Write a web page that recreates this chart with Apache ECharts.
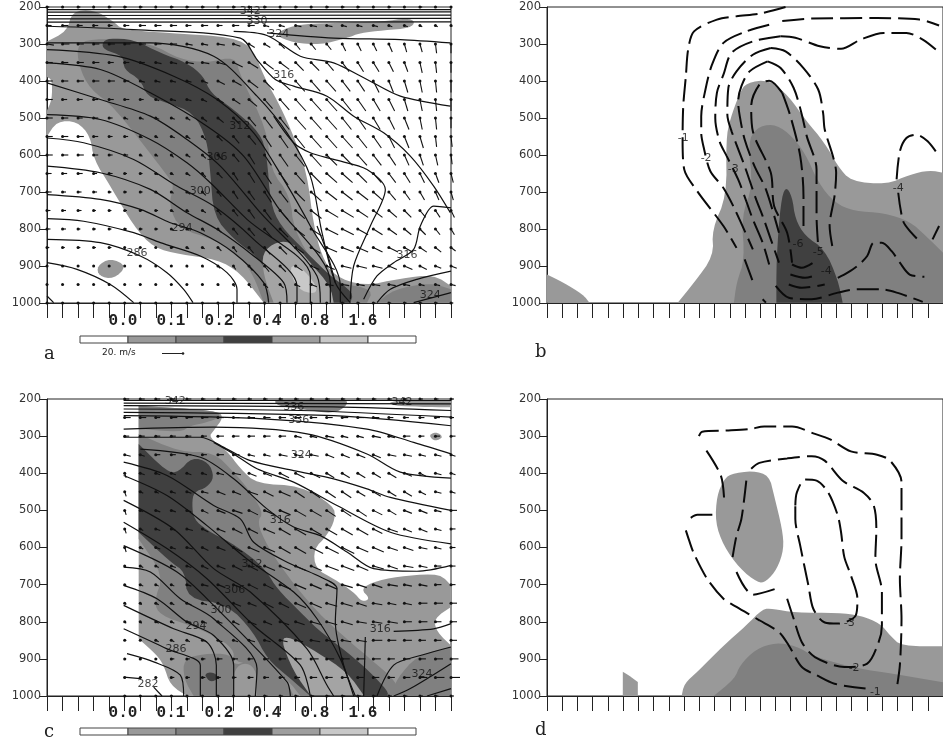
<!DOCTYPE html>
<html><head><meta charset="utf-8">
<style>html,body{margin:0;padding:0;background:#fff;overflow:hidden}#c{width:943px;height:742px}</style>
<script src="https://cdn.jsdelivr.net/npm/echarts@6/dist/echarts.min.js"></script>
</head><body><div id="c"></div>
<script>
const pressureRows=[200,250,300,350,400,450,500,550,600,650,700,750,800,850,900,950,1000];
const colorbarLabels=['','0.0','0.1','0.2','0.4','0.8','1.6',''];
const colorbarColors=['#ffffff','#999999','#7f7f7f','#404040','#9e9e9e','#c8c8c8','#ffffff'];

/* panel a */
const aWest=[
[2,1,2,1,2,2,2,1,2,2,2,1,2,2,2,1,2,1,2,2,2,1,2,1,2,1,1],
[4,5,4,4,3,4,5,5,5,4,5,4,5,5,4,4,5,5,5,4,4,4,3,3,2,2,1],
[6,6,5,5,5,5,5,5,5,5,5,6,6,5,5,4,4,4,4,3,3,3,3,2,2,1,0],
[5,5,5,5,4,4,4,5,5,6,6,7,8,8,8,8,7,7,6,6,5,5,4,3,2,1,0],
[5,5,5,5,5,4,4,4,4,4,5,6,7,8,8,9,8,8,8,7,6,5,4,3,2,1,0],
[5,4,4,4,4,4,3,3,4,4,4,5,6,7,7,8,9,9,9,8,7,6,5,3,2,1,0],
[5,5,4,4,3,3,3,3,3,3,4,5,5,6,7,8,9,9,9,8,7,6,5,4,2,1,0],
[5,5,5,4,3,3,2,2,3,3,3,4,5,6,6,7,8,9,9,9,8,7,5,4,3,1,1],
[5,5,5,4,3,3,2,2,2,3,3,4,5,5,6,7,8,9,9,9,8,7,6,4,3,2,1],
[4,4,4,3,3,2,2,2,2,3,3,4,4,5,6,7,8,9,9,9,8,7,6,5,4,3,2],
[4,3,3,3,2,2,2,2,2,3,3,3,4,5,6,7,8,9,9,9,9,8,6,5,4,3,2],
[3,3,3,2,2,2,2,2,2,2,3,3,4,5,6,7,8,9,10,10,9,8,7,6,5,4,3],
[3,3,2,2,2,2,2,2,2,2,2,3,4,5,6,7,8,9,10,10,9,8,7,6,5,4,3],
[2,2,2,2,2,1,1,1,2,2,2,3,3,4,5,6,7,8,9,10,9,8,8,7,6,5,4],
[1,1,1,1,1,1,1,1,1,1,1,2,2,3,4,5,6,7,7,8,8,8,7,7,6,5,5],
[1,1,1,0,0,1,1,1,1,1,1,1,1,2,3,3,4,5,6,6,6,6,6,5,4,4,4],
[1,1,1,1,1,1,1,1,1,1,1,1,1,1,1,1,1,1,1,2,2,2,2,2,2,2,2]];
const aUp=[
[0,0,0,0,0,0,0,0,0,0,0,0,0,0,0,0,0,0,0,0,0,0,0,0,0,0,0],
[0,0,0,0,0,0,0,0,0,0,0,0,0,0,1,1,1,1,1,1,1,1,1,1,1,1,1],
[1,0,0,0,0,0,0,0,0,1,1,1,2,3,3,4,5,5,5,6,6,6,7,7,7,8,8],
[0,0,0,0,0,0,0,1,1,1,1,2,4,5,6,6,7,7,7,8,8,8,8,8,9,9,9],
[0,0,0,0,0,0,1,1,1,1,2,3,4,6,8,8,9,9,9,9,9,10,10,10,10,10,10],
[0,0,0,0,0,0,0,1,1,1,2,3,4,6,8,9,10,10,10,10,10,10,10,10,10,10,10],
[0,0,0,0,0,1,1,1,1,2,3,4,5,7,9,10,10,10,10,10,10,10,10,10,10,10,9],
[0,0,0,0,0,0,1,1,1,2,3,4,6,7,9,10,10,10,10,10,10,10,10,10,10,9,9],
[0,0,0,0,0,0,1,1,2,2,3,4,6,8,9,10,10,10,9,9,9,9,9,9,9,9,8],
[0,0,0,0,0,0,0,1,1,2,3,4,6,8,9,10,9,9,8,8,8,8,8,8,8,8,8],
[0,0,0,0,0,0,0,1,1,2,3,4,6,7,9,9,8,8,7,7,7,7,7,7,7,7,7],
[0,0,0,0,0,0,0,0,1,1,2,4,5,7,8,8,7,7,6,6,6,6,6,6,6,6,6],
[0,0,0,0,0,0,0,0,1,1,2,3,5,6,7,7,6,6,5,5,5,5,5,5,5,5,5],
[0,0,0,0,0,0,0,0,0,1,1,3,4,5,6,6,5,5,4,4,4,4,4,4,4,4,3],
[0,0,0,0,0,0,0,0,0,1,1,2,3,4,5,5,4,3,3,2,2,2,3,3,3,2,2],
[0,0,0,0,0,0,0,0,0,0,0,1,2,3,3,3,2,2,1,1,1,1,1,1,1,1,1],
[0,0,0,0,0,0,0,0,0,0,0,0,0,1,1,1,1,0,0,0,0,0,0,0,0,0,0]];
const aLight=[[0,293],[60,266],[75,212],[140,207],[200,239],[225,261],[360,270],[560,281],[620,315],[650,387],[700,468],[740,549],[780,648],[800,792],[825,873],[860,927],[950,954],[1060,934],[1160,923],[1212,954],[1212,999],[650,999],[580,918],[510,882],[400,869],[320,851],[260,792],[190,684],[140,612],[130,549],[90,509],[30,509],[0,549],[0,480],[15,450],[15,396],[0,389]];
const aMid=[[95,360],[90,297],[160,284],[310,297],[400,342],[480,351],[565,333],[580,387],[660,531],[670,639],[730,711],[740,801],[810,909],[870,945],[980,963],[960,999],[650,999],[620,927],[580,873],[500,828],[400,801],[365,738],[380,684],[370,666],[200,468],[130,423]];
const aDark=[[165,297],[185,284],[260,288],[340,324],[420,351],[470,387],[490,432],[560,477],[640,540],[660,603],[670,729],[700,792],[780,864],[850,927],[920,972],[910,999],[690,999],[660,927],[640,882],[560,828],[500,765],[490,648],[480,558],[440,486],[360,459],[300,441],[280,396],[230,369],[230,333],[170,315]];
const aPale=[[645,864],[690,833],[740,837],[790,891],[850,954],[860,999],[680,999],[650,927]];
const aPaler=[[725,900],[760,900],[810,954],[805,977],[750,963]];
const aUpperPatch=[[740,248],[860,243],[1010,239],[1080,230],[1105,239],[1090,257],[1010,263],[940,270],[900,284],[820,302],[740,297],[680,275]];
const aBlob=[[150,900],[190,878],[240,900],[200,936],[155,927]];
const aLowerRight=[[990,999],[1040,963],[1150,945],[1212,963],[1212,999]];
const aContours=[
[[0,207],[1212,207]],[[0,214],[1212,213]],[[0,223],[1212,222]],[[0,232],[1212,231]],[[0,241],[1212,240]],
[[0,252],[260,261],[580,284],[630,342],[685,396],[740,414],[840,441],[920,495],[1010,540],[1090,603],[1160,684],[1210,756]],
[[560,266],[660,277],[760,333],[860,351],[960,396],[1060,441],[1210,468]],
[[660,270],[860,284],[1060,288],[1210,297]],
[[0,297],[310,297],[500,333],[630,441],[720,540],[790,657],[825,810],[865,945],[910,999]],
[[0,315],[210,333],[380,387],[510,450],[620,540],[710,666],[790,792],[880,954],[880,999]],
[[0,351],[160,369],[310,432],[480,522],[590,603],[690,738],[850,945],[850,999]],
[[0,405],[160,450],[310,495],[420,558],[520,630],[640,756],[810,927],[820,999]],
[[0,491],[160,504],[310,558],[420,621],[490,675],[600,774],[790,927],[790,999]],
[[0,554],[110,567],[260,612],[390,684],[500,738],[620,828],[750,954],[750,999]],
[[0,630],[160,648],[310,693],[420,756],[510,801],[620,873],[710,945],[720,999]],
[[0,707],[160,720],[280,747],[370,783],[460,810],[560,864],[650,945],[665,999]],
[[0,772],[110,779],[260,810],[340,837],[460,873],[540,918],[570,963],[570,999]],
[[0,828],[160,837],[280,873],[360,918],[410,963],[438,999]],
[[0,891],[90,909],[190,950],[260,999]],
[[0,981],[20,999]],
[[680,495],[740,567],[790,594],[860,612],[960,639],[1015,693],[970,792],[920,900],[910,990]],
[[810,792],[840,864],[865,945]],
[[1212,743],[1160,738],[1120,792],[1100,855],[1040,891],[990,927],[950,990]],
[[990,999],[1030,963],[1110,936],[1212,914]],
[[1100,999],[1212,972]]];
const aLabels=[[578,522,'312'],[510,607,'306'],[460,698,'300'],[405,797,'294'],[270,866,'286'],[710,383,'316'],[695,273,'324'],[1080,871,'316'],[1150,979,'324'],[630,239,'330'],[610,212,'342']];

/* panel b */
const bLow=[[0,923],[50,945],[110,977],[130,999],[0,999]];
const bLight=[[400,999],[450,945],[510,873],[505,801],[550,711],[548,558],[560,504],[590,432],[610,405],[680,396],[740,441],[790,504],[850,567],[890,630],[930,671],[1040,680],[1110,653],[1170,641],[1212,648],[1212,999]];
const bMid=[[572,999],[580,945],[605,882],[595,765],[630,684],[615,567],[640,527],[690,515],[740,540],[790,594],[830,675],[880,729],[940,752],[1030,756],[1110,779],[1160,819],[1212,864],[1212,999]];
const bDark=[[702,999],[702,882],[715,729],[730,684],[750,711],[760,774],[790,819],[850,855],[890,936],[905,999]];
const bContours=[
[[730,200],[650,218],[580,225],[520,234],[450,266],[432,315],[425,387],[417,468],[415,558],[420,639],[460,698],[540,792],[580,851]],
[[680,248],[610,266],[540,297],[505,356],[485,423],[472,495],[472,540],[480,581],[500,644],[540,689],[575,747],[630,855]],
[[715,279],[630,293],[565,324],[540,383],[520,432],[515,500],[528,563],[550,603],[585,666],[610,725],[630,774],[660,837],[680,896]],
[[685,311],[630,329],[580,374],[555,419],[552,491],[565,536],[605,630],[640,720],[660,765],[685,828],[710,891]],
[[675,347],[620,374],[595,414],[585,455],[590,495],[605,558],[635,630],[670,693],[710,810]],
[[720,432],[680,399],[650,410],[625,468],[630,536],[685,648],[695,738],[735,810],[750,891]],
[[685,311],[730,320],[785,365],[830,423],[845,486],[850,531],[875,603],[885,648],[880,711],[865,792],[875,855]],
[[675,347],[715,365],[755,419],[780,491],[795,549],[825,639],[825,765],[830,846]],
[[720,432],[745,495],[775,603],[785,711],[785,792]],
[[750,896],[780,905],[830,882]],
[[745,923],[790,932],[830,923]],
[[740,950],[780,959],[850,950]],
[[700,954],[740,986],[810,990],[890,972],[950,963],[1020,963],[1070,972],[1150,997]],
[[890,932],[920,918],[950,900],[980,873],[1000,837],[1025,837],[1055,860],[1080,891],[1110,923],[1155,929]],
[[1075,702],[1090,779],[1115,810],[1140,833]],
[[1180,828],[1200,792]],
[[1070,666],[1080,590],[1100,554],[1130,545],[1165,563],[1200,603]],
[[605,882],[635,954]],
[[660,990],[670,999]],
[[720,238],[810,231],[1010,230],[1140,234],[1200,250]],
[[715,279],[760,283],[835,306],[900,313],[960,288],[1030,270],[1100,270],[1150,288],[1190,315]]];
const bLabels=[[417,554,'-1'],[487,608,'-2'],[570,637,'-3'],[1075,690,'-4'],[768,840,'-6'],[830,862,'-5'],[855,914,'-4']];

/* panel c: columns start at the sixth tick */
const cWest=[
[3,3,3,3,3,2,2,2,2,2,2,2,2,2,2,2,2,2,2,2,2,2],
[4,4,3,4,4,4,4,4,4,4,4,4,4,4,4,4,4,3,3,3,3,2],
[3,3,3,3,3,3,4,4,4,4,4,4,4,5,4,4,5,4,4,3,3,3],
[4,3,3,3,3,3,4,4,4,4,5,5,5,5,5,5,5,5,5,4,4,3],
[1,3,3,3,3,3,4,5,5,5,6,6,6,5,5,5,5,5,5,4,4,3],
[1,2,2,3,3,4,5,5,6,6,7,6,6,6,6,5,5,5,5,4,4,3],
[1,2,3,3,3,4,5,6,6,7,7,7,7,6,6,6,6,5,5,5,4,4],
[1,2,3,3,4,4,5,6,6,7,7,7,7,7,7,7,6,6,5,5,4,3],
[1,2,3,3,4,4,5,6,7,7,7,7,8,8,8,7,7,6,6,5,4,3],
[1,2,2,3,3,4,5,6,6,7,7,7,7,8,8,7,7,6,6,5,4,3],
[1,2,2,2,3,4,5,5,6,6,7,7,7,7,7,6,6,6,5,5,4,3],
[1,1,2,2,3,3,4,5,5,6,6,7,7,7,7,6,6,5,5,5,5,4],
[1,1,2,2,3,3,3,4,5,5,6,6,7,7,7,6,6,6,5,5,4,4],
[1,1,2,2,2,3,3,3,4,4,5,5,6,6,6,6,6,5,5,4,4,4],
[1,1,1,2,2,2,3,3,3,3,4,4,5,5,5,5,5,4,4,4,5,5],
[1,1,1,2,2,2,2,2,3,3,3,3,4,4,4,4,4,4,4,5,6,6],
[1,1,1,1,1,1,1,1,1,2,2,2,2,2,2,2,2,2,2,2,2,2]];
const cUp=[
[0,0,0,0,0,0,0,0,0,0,0,0,0,0,0,0,0,0,0,0,0,0],
[0,0,0,0,0,0,0,0,0,0,0,0,0,0,0,0,0,0,0,0,0,0],
[0,0,0,0,0,0,0,0,0,0,0,1,1,1,1,1,1,1,0,0,0,0],
[1,1,0,0,0,0,0,0,1,1,1,1,1,2,2,2,2,1,1,1,1,1],
[3,1,1,1,1,1,1,1,2,2,3,3,3,3,3,3,3,3,2,2,1,1],
[3,1,1,1,1,1,2,2,2,3,3,4,4,4,4,3,3,3,3,2,1,1],
[3,1,1,1,1,2,2,2,3,3,3,4,4,4,4,4,3,3,2,2,1,0],
[3,1,1,1,1,2,2,3,3,3,4,4,4,4,4,4,3,2,2,2,1,0],
[3,1,1,1,1,2,2,3,3,3,4,4,4,4,4,3,3,2,2,1,1,0],
[1,1,1,1,1,2,2,3,3,3,3,3,3,3,3,3,2,2,1,1,0,0],
[1,1,1,1,1,1,2,2,3,3,3,3,3,3,2,2,2,1,1,1,0,0],
[1,1,1,1,1,1,2,2,2,3,3,3,3,2,2,2,1,1,1,0,0,0],
[1,1,1,1,1,1,1,2,2,2,2,2,2,2,2,1,1,1,0,0,0,0],
[0,0,1,1,1,1,1,1,1,1,1,1,1,1,1,1,0,0,0,0,0,0],
[0,0,0,0,0,0,0,0,0,0,0,0,0,0,0,0,0,0,0,0,0,0],
[0,0,0,0,0,0,0,0,0,0,0,0,0,0,0,0,0,0,0,0,0,0],
[0,0,0,0,0,0,0,0,0,0,0,0,0,0,0,0,0,0,0,0,0,0]];
const cLight=[[275,218],[510,231],[530,249],[500,285],[485,303],[540,339],[580,388],[630,429],[760,433],[860,487],[865,523],[840,568],[800,604],[805,657],[860,684],[920,720],[945,747],[970,738],[940,711],[990,689],[1080,675],[1180,671],[1212,702],[1212,760],[1160,792],[1170,828],[1212,864],[1212,1000],[420,1000],[370,971],[350,917],[330,890],[275,846]];
const cTopBand=[[680,200],[900,200],[900,218],[860,240],[760,227],[690,218]];
const cTopRight=[[1030,204],[1212,204],[1212,222],[1150,222],[1030,218]];
const cSpotLight=[[1145,299],[1165,288],[1190,301],[1165,315]];
const cTopMid=[[275,218],[510,231],[520,249],[480,263],[430,272],[400,290],[275,280]];
const cMid=[[275,294],[400,343],[500,343],[560,397],[600,438],[650,505],[630,532],[660,595],[720,675],[810,774],[910,855],[970,900],[1050,962],[1050,1000],[760,1000],[720,953],[640,917],[560,908],[560,873],[500,837],[430,810],[340,783],[320,747],[350,675],[275,577]];
const cDark=[[275,321],[360,397],[395,397],[435,357],[485,370],[502,411],[480,438],[440,451],[435,483],[440,523],[480,554],[550,586],[620,630],[660,666],[690,711],[760,774],[810,819],[900,882],[960,927],[1025,989],[1020,1000],[790,1000],[730,953],[660,900],[620,828],[540,752],[420,738],[415,666],[370,639],[275,559]];
const cPale=[[700,846],[730,841],[810,882],[900,935],[950,998],[790,998],[740,935]];
const cLowerMid=[[410,900],[470,886],[550,886],[560,917],[600,908],[660,917],[720,962],[740,1000],[440,1000],[410,953]];
const cLowerLight=[[560,926],[600,908],[630,935],[630,998],[560,998]];
const cSpotDark=[[470,940],[500,935],[515,953],[490,964]];
const cLowerRight=[[1030,1000],[1050,953],[1110,891],[1212,868],[1212,1000]];
const cContours=[
[[230,204],[1212,204]],[[230,211],[1212,213]],[[230,218],[860,221],[1212,231]],[[230,227],[760,231],[1212,249]],[[230,236],[860,245],[1212,272]],
[[230,245],[660,254],[960,281],[1100,317],[1212,348]],
[[230,281],[500,276],[780,294],[960,348],[1060,397],[1212,413]],
[[230,303],[460,303],[540,335],[610,366],[740,393],[860,415],[960,442],[1030,465],[1212,500]],
[[500,317],[560,348],[630,388],[740,424],[870,487],[1030,559],[1212,590]],
[[280,335],[460,357],[560,415],[660,496],[740,545],[820,568],[900,612],[980,657],[1110,664],[1212,648]],
[[230,370],[360,406],[500,487],[580,523],[620,586],[730,644],[810,675],[870,711],[865,801],[890,917],[925,1000]],
[[230,406],[360,460],[480,541],[600,631],[740,720],[810,792],[880,900],[920,1000]],
[[230,473],[380,550],[500,657],[610,720],[780,873],[840,971],[860,1000]],
[[230,532],[360,603],[480,684],[620,810],[760,917],[790,1000]],
[[230,595],[390,666],[500,756],[720,962],[730,1000]],
[[230,653],[310,666],[400,738],[500,792],[630,926],[625,1000]],
[[230,702],[330,738],[420,801],[500,837],[560,917],[560,1000]],
[[230,756],[380,819],[480,855],[508,917],[508,1000]],
[[230,819],[360,873],[460,917],[460,1000]],
[[240,886],[320,908],[400,944],[410,1000]],
[[230,949],[280,953]],
[[320,976],[345,1000]],
[[955,841],[950,1000]],
[[1040,826],[1160,819],[1212,805]],
[[990,1000],[1040,917],[1120,891],[1212,868]],
[[1040,1000],[1090,980],[1212,913]],
[[1140,1000],[1212,980]]];
const cLabels=[[385,207,'342'],[740,222,'336'],[755,256,'336'],[1065,209,'342'],[763,352,'324'],[700,527,'316'],[615,646,'312'],[563,714,'306'],[522,770,'300'],[447,813,'294'],[387,875,'286'],[303,967,'282'],[1000,821,'316'],[1125,942,'324']];

/* panel d */
const dSmall=[[232,935],[250,944],[278,962],[278,1000],[232,1000]];
const dBlob=[[560,402],[630,393],[680,406],[695,460],[720,550],[725,604],[705,657],[670,693],[645,695],[590,657],[540,595],[515,532],[520,460],[540,420]];
const dLight=[[412,1000],[420,967],[460,935],[540,864],[610,810],[660,765],[690,765],[760,776],[890,776],[960,783],[1020,805],[1050,837],[1085,866],[1212,866],[1212,1000]];
const dMid=[[510,1000],[575,953],[590,917],[640,873],[700,856],[760,864],[820,895],[950,926],[1060,940],[1212,963],[1212,1000]];
const dContours=[
[[465,300],[475,288],[550,285],[620,281],[665,274],[750,274],[820,294],[865,308],[930,341],[1010,350],[1050,366],[1085,424],[1085,577],[1080,684],[1085,792],[1080,917],[1070,982]],
[[488,339],[532,406],[542,467]],
[[440,520],[460,512],[520,512]],
[[425,554],[435,581],[450,617],[490,684],[540,738],[580,760],[650,796],[710,828],[740,864],[780,922],[825,944],[880,967],[975,980]],
[[625,388],[650,372],[735,360],[810,354],[850,366],[905,420],[970,453],[1000,487],[1008,550],[1005,630],[1025,720],[1025,810],[1015,855],[980,913],[910,922],[820,895],[780,855],[755,792],[735,738]],
[[610,420],[595,523],[580,568],[568,626]],
[[580,666],[630,727],[700,711]],
[[760,487],[765,451],[790,417],[825,420],[860,451],[890,514],[900,559],[910,626],[930,675],[950,738],[945,783],[890,805],[850,802],[815,765],[800,702],[775,595],[760,523],[760,487]]];
const dLabels=[[925,805,'-3'],[940,924,'-2'],[1005,989,'-1']];

const C_LIGHT='#999999',C_MID='#808080',C_DARK='#404040',C_PALE='#a4a4a4',C_PALER='#c8c8c8';
const panels=[
 {left:47,top:7,height:296,sharpX:[0,1212],fills:[[aLight,C_LIGHT],[aUpperPatch,C_LIGHT],[aBlob,C_LIGHT],[aLowerRight,C_MID],[aMid,C_MID],[aDark,C_DARK],[aPale,C_PALE],[aPaler,C_PALER]],contours:aContours,labels:aLabels,west:aWest,up:aUp,first:0,arrowScale:1.15,dash:false},
 {left:547,top:7,height:296,sharpX:[0,1212],fills:[[bLow,C_LIGHT],[bLight,C_LIGHT],[bMid,C_MID],[bDark,C_DARK]],contours:bContours,labels:bLabels,dash:true},
 {left:47,top:399,height:297,sharpX:[275,1212],fills:[[cLight,C_LIGHT],[cTopRight,C_LIGHT],[cSpotLight,C_LIGHT],[cTopBand,C_MID],[cTopMid,C_MID],[cMid,C_MID],[cLowerRight,C_MID],[cLowerMid,C_MID],[cLowerLight,C_LIGHT],[cDark,C_DARK],[cSpotDark,C_DARK],[cPale,C_PALE]],contours:cContours,labels:cLabels,west:cWest,up:cUp,first:5,arrowScale:1.5,dash:false},
 {left:547,top:399,height:297,sharpX:[232,278,1212],fills:[[dSmall,C_LIGHT],[dBlob,C_LIGHT],[dLight,C_LIGHT],[dMid,C_MID]],contours:dContours,labels:dLabels,dash:true}
];
const colorbars=[{left:80,top:336},{left:80,top:728}];

/* rounds an outline's pixel path the way a smooth line does, leaving corners on the frame sharp */
function rounded(pixels,sharp){
 let pts=pixels.map((q,i)=>({q,s:sharp[i]}));
 for(let n=0;n<2;n++){
  const out=[];
  pts.forEach((a,i)=>{
   const b=pts[(i+1)%pts.length];
   out.push(a.s?{q:a.q,s:true}:{q:[a.q[0]*0.75+b.q[0]*0.25,a.q[1]*0.75+b.q[1]*0.25],s:false});
   if(!b.s)out.push({q:[a.q[0]*0.25+b.q[0]*0.75,a.q[1]*0.25+b.q[1]*0.75],s:false});
  });
  pts=out;
 }
 return pts.map(o=>o.q);
}

const X_MAX=1212,X_STEP=1212/26;
const grid=[],xAxis=[],yAxis=[],series=[];
panels.forEach((p,i)=>{
 grid.push({left:p.left,top:p.top,width:404,height:p.height,show:true,borderColor:'#222',borderWidth:1,backgroundColor:'transparent'});
 xAxis.push({gridIndex:i,type:'value',min:0,max:X_MAX,interval:X_STEP,position:'bottom',
  axisLine:{onZero:false,lineStyle:{color:'#222'}},axisTick:{show:true,length:15,lineStyle:{color:'#222'}},axisLabel:{show:false},splitLine:{show:false}});
 yAxis.push({gridIndex:i,type:'value',min:200,max:1000,interval:100,inverse:true,
  axisLine:{show:true,onZero:false,lineStyle:{color:'#222'}},axisTick:{show:true,length:8,lineStyle:{color:'#222'}},
  axisLabel:{margin:6,color:'#333',fontFamily:'DejaVu Sans',fontSize:11.5,formatter:v=>String(v)},splitLine:{show:false}});
 series.push({type:'custom',xAxisIndex:i,yAxisIndex:i,coordinateSystem:'cartesian2d',silent:true,z:2,clip:true,
  data:p.fills.map((f,k)=>[k]),
  renderItem:(params,api)=>{
   const f=p.fills[params.dataIndex];
   const sharp=f[0].map(q=>q[1]>=998||p.sharpX.includes(q[0]));
   return {type:'polygon',shape:{points:rounded(f[0].map(q=>api.coord(q)),sharp)},style:{fill:f[1]}};
  }});
 p.contours.forEach(c=>series.push({type:'line',xAxisIndex:i,yAxisIndex:i,data:c,smooth:0.3,symbol:'none',silent:true,z:3,
  lineStyle:p.dash?{color:'#0a0a0a',width:2,type:[22,7]}:{color:'#111',width:1.2}}));
 if(p.west){
  const data=[];
  p.west.forEach((row,r)=>row.forEach((w,k)=>data.push([(k+p.first)*X_STEP,pressureRows[r],w,p.up[r][k]])));
  series.push({type:'custom',xAxisIndex:i,yAxisIndex:i,coordinateSystem:'cartesian2d',silent:true,z:4,clip:false,data,
   renderItem:(params,api)=>{
    const t=api.coord([api.value(0),api.value(1)]),s=p.arrowScale,w=api.value(2),u=api.value(3);
    return {type:'group',children:[
     {type:'line',shape:{x1:t[0],y1:t[1],x2:t[0]+w*s,y2:t[1]+u*s},style:{stroke:'#111',lineWidth:1.1}},
     {type:'circle',shape:{cx:t[0],cy:t[1],r:1.5},style:{fill:'#111'}}]};
   }});
 }
 series.push({type:'scatter',xAxisIndex:i,yAxisIndex:i,symbolSize:0,silent:true,z:5,
  data:p.labels.map(l=>({value:[l[0],l[1]],label:{formatter:l[2]}})),
  label:{show:true,position:'inside',color:'#111',fontFamily:'DejaVu Sans',fontSize:11}});
});
colorbars.forEach((b,j)=>{
 const i=panels.length+j;
 grid.push({left:b.left,top:b.top,width:336,height:7});
 xAxis.push({gridIndex:i,type:'value',min:0,max:7,interval:1,position:'top',
  axisLine:{show:false},axisTick:{show:false},splitLine:{show:false},
  axisLabel:{show:true,margin:7,padding:[0,10,0,0],color:'#222',fontFamily:'Liberation Mono',fontWeight:'bold',fontSize:16,
   formatter:v=>colorbarLabels[v]}});
 yAxis.push({gridIndex:i,type:'value',min:0,max:1,show:false});
 series.push({type:'custom',xAxisIndex:i,yAxisIndex:i,coordinateSystem:'cartesian2d',silent:true,z:3,
  data:colorbarColors.map((c,k)=>[k]),
  renderItem:(params,api)=>{
   const k=params.dataIndex,a=api.coord([k,1]),z=api.coord([k+1,0]);
   return {type:'rect',shape:{x:a[0],y:a[1],width:z[0]-a[0],height:z[1]-a[1]},style:{fill:colorbarColors[k],stroke:'#444',lineWidth:1}};
  }});
});
const letter=(t,x,y)=>({type:'text',left:x,top:y,style:{text:t,fontFamily:'DejaVu Serif',fontSize:18,fill:'#222'}});
const graphic=[letter('a',44,345),letter('b',535,343),letter('c',44,723),letter('d',535,721),
 {type:'text',left:102,top:348,style:{text:'20. m/s',fontFamily:'DejaVu Sans',fontSize:9,fill:'#222'}},
 {type:'line',shape:{x1:162,y1:353.5,x2:183,y2:353.5},style:{stroke:'#222',lineWidth:1}},
 {type:'circle',shape:{cx:183,cy:353.5,r:1.3},style:{fill:'#222'}}];
const chart=echarts.init(document.getElementById('c'),null,{renderer:'canvas'});
chart.setOption({animation:false,backgroundColor:'#fff',grid,xAxis,yAxis,series,graphic});
</script></body></html>
